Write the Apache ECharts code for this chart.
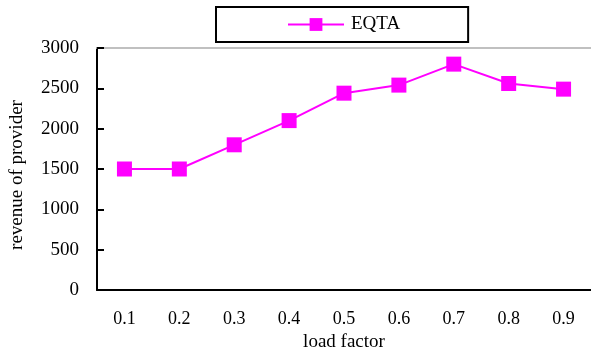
<!DOCTYPE html>
<html>
<head>
<meta charset="utf-8">
<script src="https://cdn.jsdelivr.net/npm/echarts@6/dist/echarts.min.js"></script>
<style>
  html, body { margin: 0; padding: 0; background: #fff; }
  #chart { width: 591px; height: 357px; }
</style>
</head>
<body>
<div id="chart"></div>
<script>
// Provider revenue under increasing load factor
const categories = ['0.1', '0.2', '0.3', '0.4', '0.5', '0.6', '0.7', '0.8', '0.9'];
const eqtaRevenue = [1500, 1500, 1800, 2100, 2440, 2540, 2800, 2560, 2490];
const seriesName = 'EQTA';

const FONT = '"Liberation Serif", "Times New Roman", serif';
const MAGENTA = '#ff00ff';

const chart = echarts.init(document.getElementById('chart'), null, { renderer: 'canvas' });

chart.setOption({
  animation: false,
  backgroundColor: '#fff',
  textStyle: { fontFamily: FONT, color: '#000' },
  legend: {
    left: 216,
    top: 7,
    orient: 'horizontal',
    padding: [8, 68, 8, 71],
    borderColor: '#000',
    borderWidth: 2,
    itemWidth: 56,
    itemHeight: 16,
    itemGap: 0,
    itemStyle: { color: MAGENTA },
    lineStyle: { color: MAGENTA, width: 2 },
    textStyle: { fontFamily: FONT, fontSize: 19, color: '#000', padding: [0, 0, 0, 2] },
    data: [seriesName]
  },
  grid: { left: 97, right: -1, top: 48, bottom: 63, containLabel: false },
  xAxis: [
    {
      type: 'category',
      data: categories,
      boundaryGap: true,
      position: 'bottom',
      name: 'load factor',
      nameLocation: 'middle',
      nameGap: 43,
      nameTextStyle: { fontFamily: FONT, fontSize: 19, color: '#000' },
      axisLine: { lineStyle: { color: '#000', width: 2 } },
      axisTick: { inside: true, length: 6, lineStyle: { color: '#000', width: 2 } },
      axisLabel: { margin: 20, fontFamily: FONT, fontSize: 18, color: '#000' },
      splitLine: { show: false }
    },
    {
      type: 'category',
      data: categories,
      position: 'top',
      axisLine: { lineStyle: { color: '#c0c0c0', width: 2 } },
      axisTick: { show: false },
      axisLabel: { show: false },
      splitLine: { show: false }
    }
  ],
  yAxis: {
    type: 'value',
    min: 0,
    max: 3000,
    interval: 500,
    name: 'revenue of provider',
    nameLocation: 'middle',
    nameRotate: 90,
    nameGap: 70,
    nameTextStyle: { fontFamily: FONT, fontSize: 19, color: '#000', padding: [0, 12, 0, 0] },
    axisLine: { show: true, lineStyle: { color: '#000', width: 2 } },
    axisTick: { show: true, inside: true, length: 7, lineStyle: { color: '#000', width: 2 } },
    axisLabel: {
      margin: 18,
      fontFamily: FONT,
      fontSize: 19,
      color: '#000',
      formatter: (v) => String(v)
    },
    splitLine: { show: false }
  },
  series: [
    {
      name: seriesName,
      type: 'line',
      data: eqtaRevenue,
      symbol: 'rect',
      symbolSize: 15,
      itemStyle: { color: MAGENTA },
      lineStyle: { color: MAGENTA, width: 2 },
      z: 5
    }
  ]
});
</script>
</body>
</html>
